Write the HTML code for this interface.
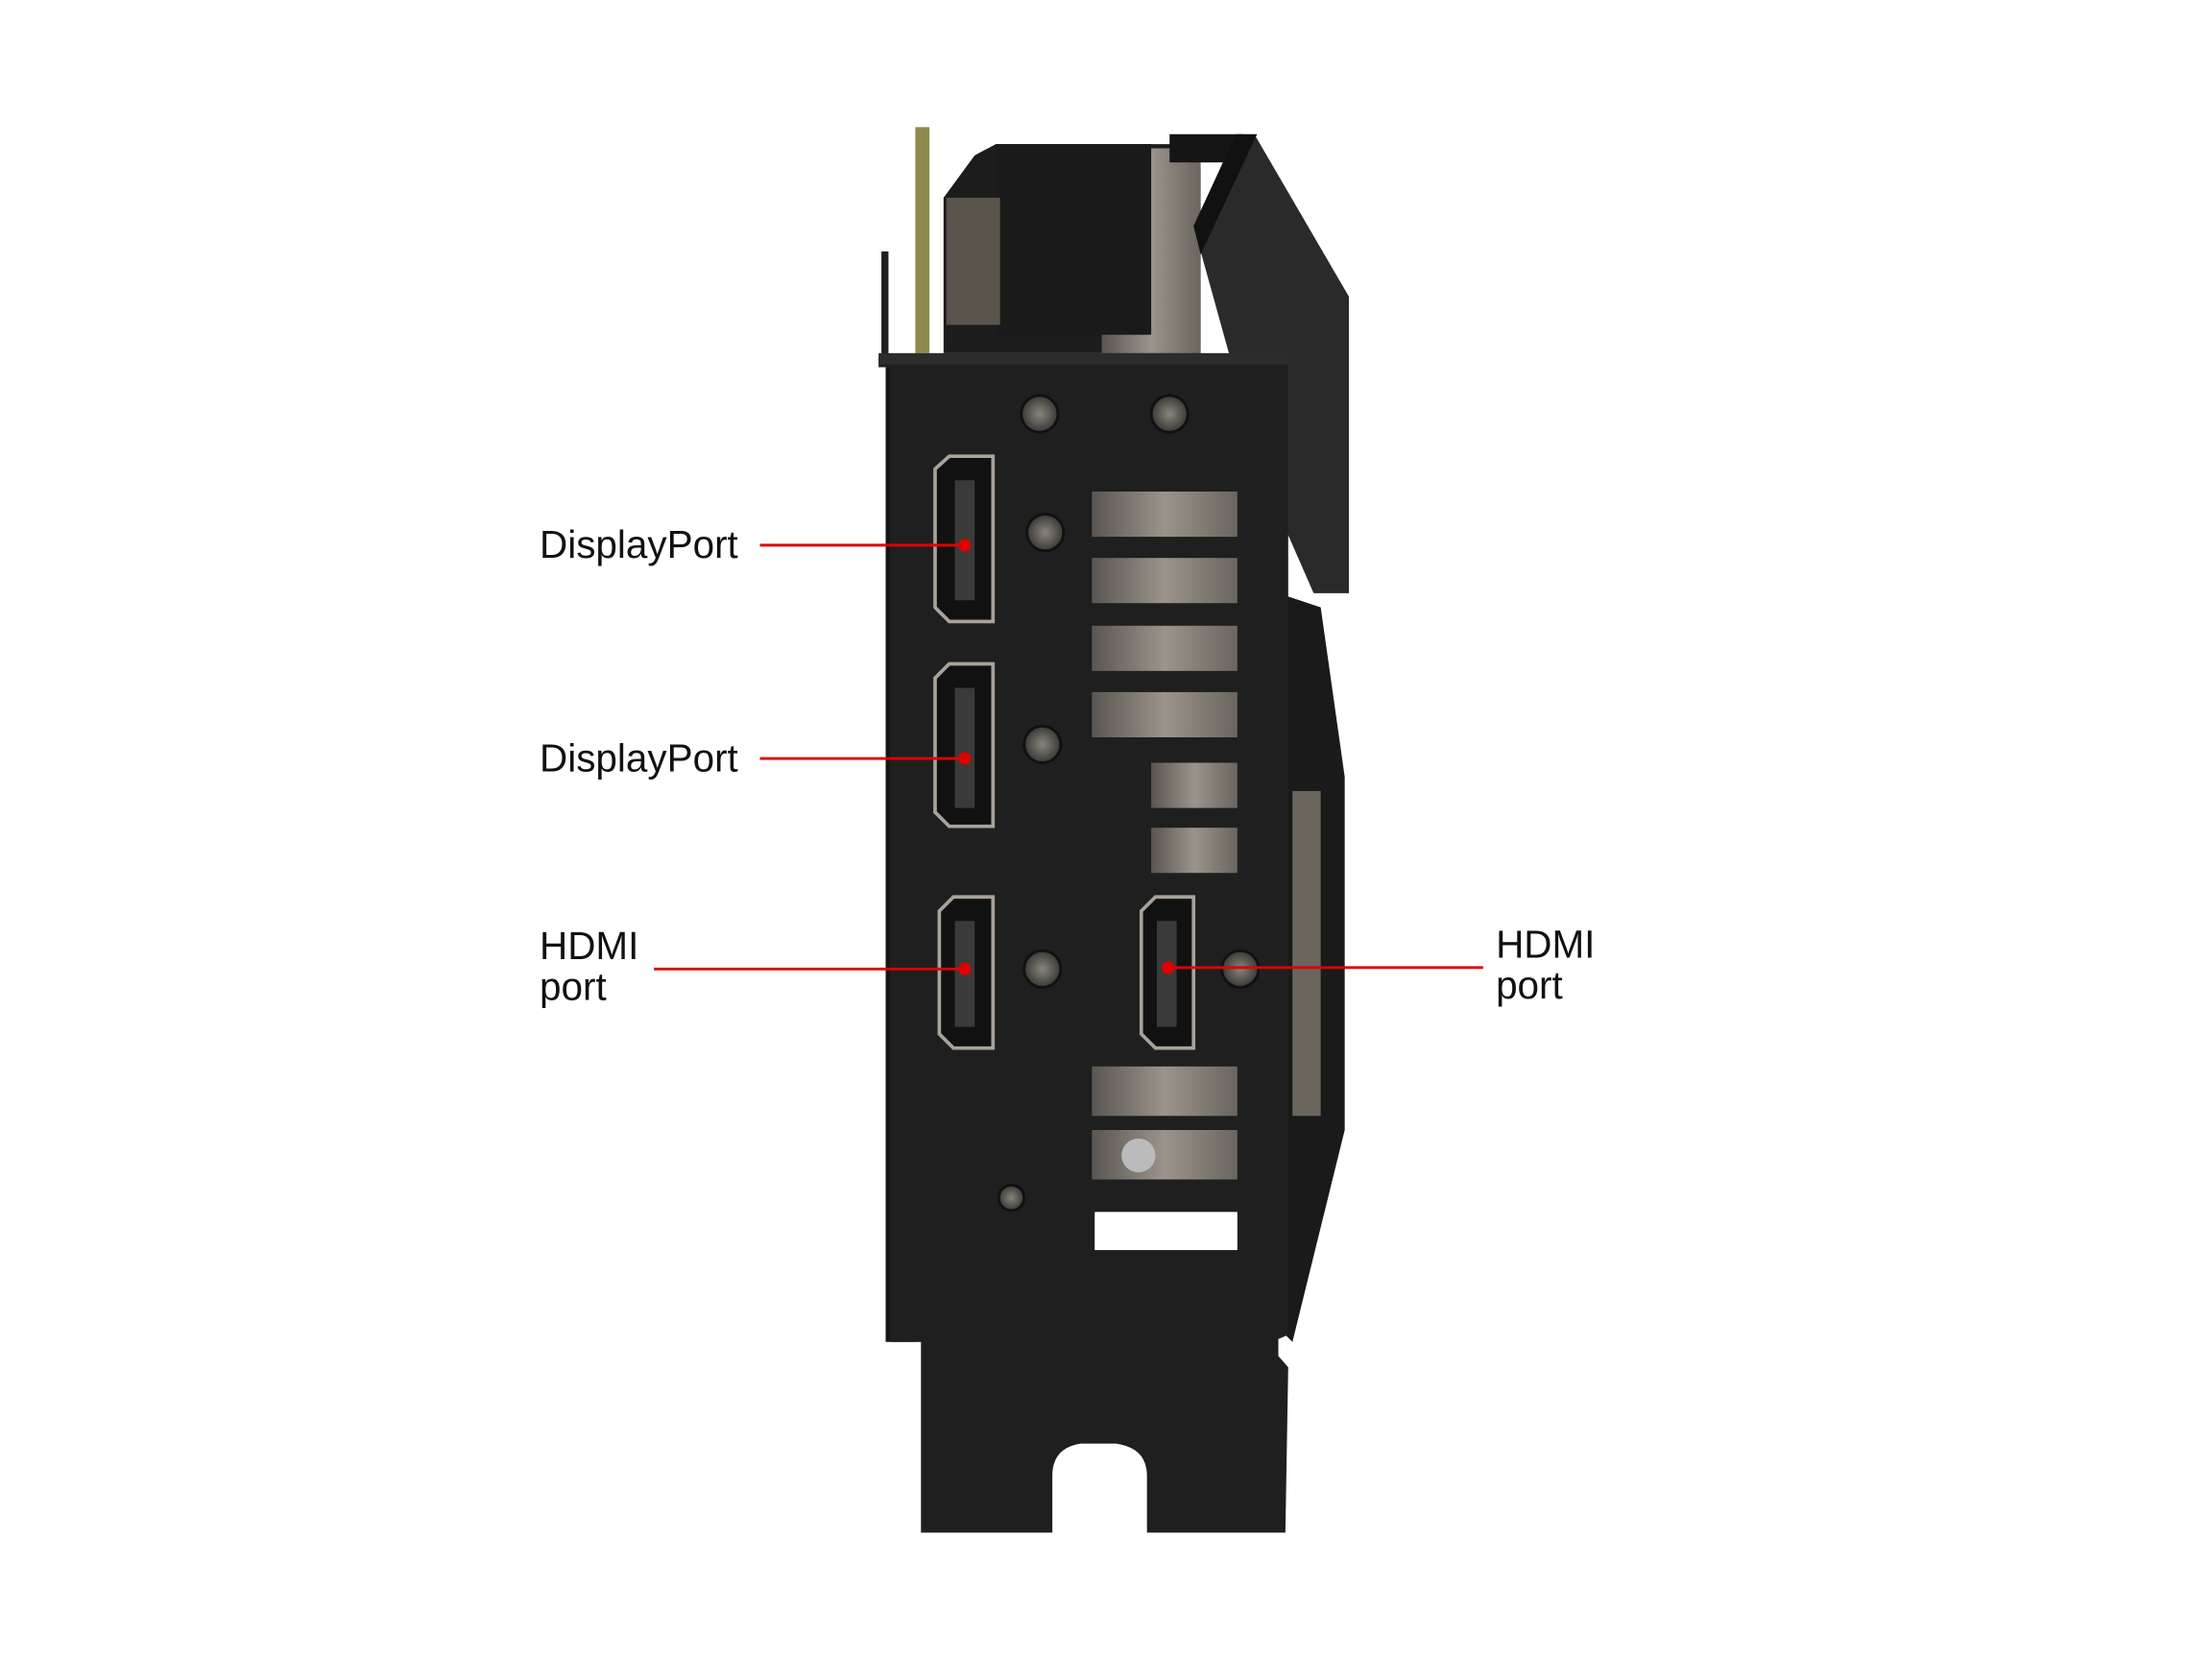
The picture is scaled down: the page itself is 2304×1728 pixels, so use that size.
<!DOCTYPE html>
<html><head><meta charset="utf-8"><style>
html,body{margin:0;padding:0;background:#fff;}
svg{display:block;}
text{font-family:"Liberation Sans",Arial,sans-serif;font-size:27.5px;fill:#111;}
</style></head><body>
<svg width="2304" height="1728" viewBox="0 0 1566 1174.5" xmlns="http://www.w3.org/2000/svg">
<defs>
<linearGradient id="metal" x1="0" y1="0" x2="1" y2="0">
<stop offset="0" stop-color="#5a5550"/><stop offset="0.5" stop-color="#9a948c"/><stop offset="1" stop-color="#6a655e"/>
</linearGradient>
<radialGradient id="scr"><stop offset="0" stop-color="#8a857c"/><stop offset="1" stop-color="#3a3835"/></radialGradient>
</defs>
<rect x="648" y="90" width="10" height="160" fill="#8c8a4c"/>
<rect x="624" y="178" width="5" height="75" fill="#222"/>
<polygon points="705,102 830,102 850,118 850,250 668,250 668,140 690,110" fill="#1c1c1c"/>
<rect x="780" y="105" width="70" height="145" fill="url(#metal)"/>
<rect x="705" y="102" width="110" height="135" fill="#1a1a1a"/>
<rect x="670" y="140" width="38" height="90" fill="#5a544c"/>
<rect x="828" y="95" width="52" height="20" fill="#151515"/>
<polygon points="888,95 955,210 955,420 930,420 895,340 845,160" fill="#2a2a2a"/>
<polygon points="875,95 890,95 850,180 845,160" fill="#111"/>
<polygon points="905,420 935,430 952,550 952,800 915,950 905,940" fill="#1a1a1a"/>
<rect x="915" y="560" width="20" height="230" fill="#6a655d"/>
<rect x="627" y="260" width="22" height="690" fill="#151515"/>
<rect x="632" y="830" width="14" height="120" fill="#444"/>
<rect x="640" y="920" width="12" height="30" fill="#c7c065"/>
<path d="M622,252 L912,252 L912,945 L905,948 L905,960 L912,968 L910,1085 L812,1085 L812,1045 Q812,1025 790,1022 L765,1022 Q745,1025 745,1045 L745,1085 L652,1085 L652,950 L630,950 L630,260 L622,260 Z" fill="#1f1f1f"/>
<rect x="622" y="250" width="290" height="8" fill="#2c2c2c"/>
<g fill="url(#metal)">
<rect x="773" y="348" width="103" height="32"/>
<rect x="773" y="395" width="103" height="32"/>
<rect x="773" y="443" width="103" height="32"/>
<rect x="773" y="490" width="103" height="32"/>
<rect x="815" y="540" width="61" height="32"/>
<rect x="815" y="586" width="61" height="32"/>
<rect x="773" y="755" width="103" height="35"/>
<rect x="773" y="800" width="103" height="35"/>
</g>
<rect x="775" y="858" width="101" height="27" fill="#fff"/>
<circle cx="806" cy="818" r="12" fill="#bbb"/>
<g fill="#111" stroke="#a8a29a" stroke-width="2.5">
<path d="M662,332 L672,323 L703,323 L703,440 L672,440 L662,430 Z"/>
<path d="M662,480 L672,470 L703,470 L703,585 L672,585 L662,575 Z"/>
<path d="M665,645 L675,635 L703,635 L703,742 L675,742 L665,732 Z"/>
<path d="M808,645 L818,635 L845,635 L845,742 L818,742 L808,732 Z"/>
</g>
<g fill="#3a3a3a"><rect x="676" y="340" width="14" height="85"/><rect x="676" y="487" width="14" height="85"/><rect x="676" y="652" width="14" height="75"/><rect x="819" y="652" width="14" height="75"/></g>
<g fill="url(#scr)" stroke="#111" stroke-width="2">
<circle cx="736" cy="293" r="13"/><circle cx="828" cy="293" r="13"/><circle cx="740" cy="377" r="13"/><circle cx="738" cy="527" r="13"/><circle cx="738" cy="686" r="13"/><circle cx="878" cy="686" r="13"/><circle cx="716" cy="848" r="9"/>
</g>
<g stroke="#e00000" stroke-width="2" fill="#e00000">
<line x1="538" y1="386" x2="683" y2="386"/><circle cx="683" cy="386" r="3.5"/>
<line x1="538" y1="537" x2="683" y2="537"/><circle cx="683" cy="537" r="3.5"/>
<line x1="463" y1="686" x2="683" y2="686"/><circle cx="683" cy="686" r="3.5"/>
<line x1="827" y1="685" x2="1050" y2="685"/><circle cx="827" cy="685" r="3.5"/>
</g>
<text x="382" y="395">DisplayPort</text>
<text x="382" y="546">DisplayPort</text>
<text x="382" y="679">HDMI</text>
<text x="382" y="708">port</text>
<text x="1059" y="678">HDMI</text>
<text x="1059" y="707">port</text>
</svg>
</body></html>
